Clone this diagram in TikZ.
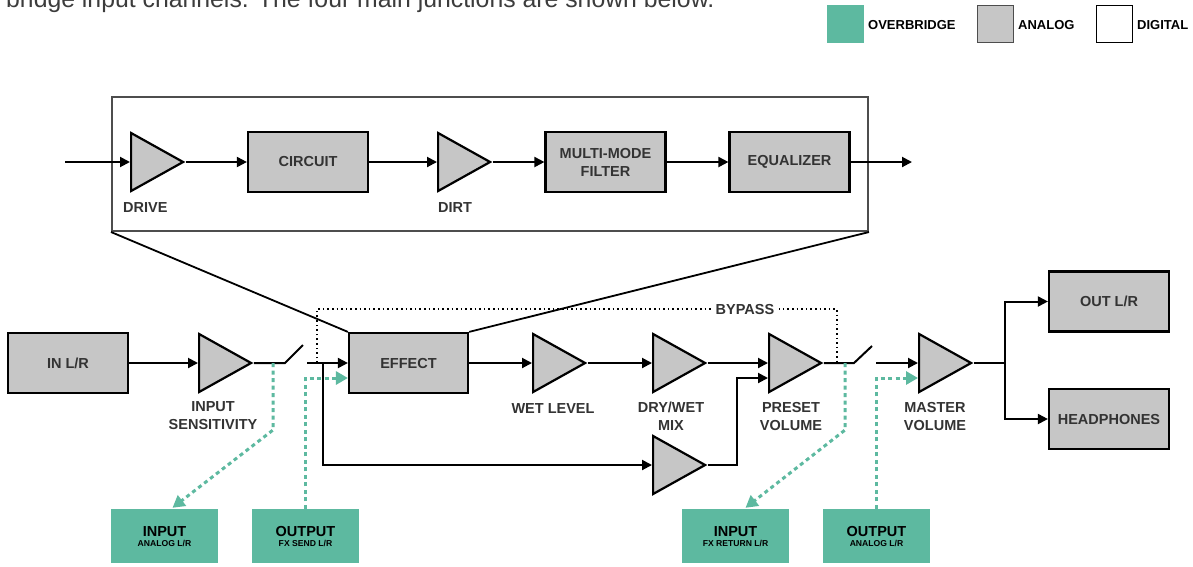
\documentclass[tikz,border=0pt]{standalone}
\usepackage{fontspec}
\setmainfont{Liberation Sans}
\usetikzlibrary{shapes.geometric,arrows.meta,calc}
\definecolor{agray}{HTML}{C6C6C6}
\definecolor{obgreen}{HTML}{5DB9A0}
\definecolor{txt}{HTML}{333333}
\definecolor{capt}{HTML}{3C3C3C}
\definecolor{framec}{HTML}{4D4D4D}
\begin{document}
\begin{tikzpicture}[x=1pt,y=-1pt,
  abox/.style={rectangle, draw=black, line width=2.2pt, fill=agray, minimum width=120pt, minimum height=60pt, inner sep=0pt, align=center, text=txt, font=\fontsize{14.5}{18}\selectfont\bfseries},
  amp/.style={isosceles triangle, isosceles triangle stretches, draw=black, line width=2.2pt, fill=agray, minimum width=58pt, minimum height=52pt, inner sep=0pt, anchor=west},
  lbl/.style={inner sep=0pt, align=center, text=txt, font=\fontsize{14.5}{18}\selectfont\bfseries},
  lbl1/.style={inner sep=0pt, text=txt, font=\fontsize{14.5}{18}\selectfont\bfseries},
  sig/.style={line width=2pt, -{Triangle[length=10pt,width=10pt]}},
  wire/.style={line width=2pt},
  ob/.style={fill=obgreen, minimum width=107pt, minimum height=54pt, inner sep=0pt},
  obt/.style={inner sep=0pt, anchor=base, font=\fontsize{14.5}{16}\selectfont\bfseries, text=black},
  obs/.style={inner sep=0pt, anchor=base, font=\fontsize{8.6}{9}\selectfont\bfseries, text=black},
  gdot/.style={draw=obgreen, line width=3pt, dash pattern=on 4pt off 3.5pt, -{Triangle[length=12pt,width=13pt]}},
  bypass/.style={line width=1.6pt, dash pattern=on 1.6pt off 3pt},
  legt/.style={inner sep=0pt, anchor=west, font=\fontsize{13}{15}\selectfont\bfseries, text=black}
]
\useasboundingbox (0,0) rectangle (1193,566);
\clip (0,0) rectangle (1193,566);

% caption (cropped at top, as in the reference)
\node[anchor=base west, inner sep=0pt, text=capt, font=\fontsize{24.8}{30}\selectfont] (caption) at (6,7) {bridge input channels. The four main junctions are shown below.};

% legend
\node[fill=obgreen, minimum width=37pt, minimum height=38pt, inner sep=0pt] (legob) at (845.5,24) {};
\node[legt] (legobt) at (868,25) {OVERBRIDGE};
\node[fill=agray, draw=framec, line width=1pt, minimum width=36pt, minimum height=37pt, inner sep=0pt] (legan) at (995,24) {};
\node[legt] (legant) at (1018,25) {ANALOG};
\node[fill=white, draw=black, line width=1pt, minimum width=36pt, minimum height=37pt, inner sep=0pt] (legdi) at (1114,24) {};
\node[legt] (legdit) at (1137,25) {DIGITAL};

% zoom frame
\node[draw=framec, line width=2pt, minimum width=756pt, minimum height=134pt, inner sep=0pt] (frame) at (490,164) {};

% top row (effect detail)
\coordinate (tin) at (65,162);
\node[amp] (drive) at (130,162) {};
\node[abox] (circuit) at (308,162) {CIRCUIT};
\node[amp] (dirt) at (437,162) {};
\node[abox] (mmf) at (605.5,162) {MULTI-MODE\\FILTER};
\node[abox] (eq) at (789.5,162) {EQUALIZER};
\coordinate (tout) at (912,162);
\node[lbl1, anchor=base west] (drivel) at (123,212) {DRIVE};
\node[lbl1, anchor=base west] (dirtl) at (438,212) {DIRT};
\draw[sig] (tin) -- (drive.west);
\draw[sig] (drive.east) -- (circuit.west);
\draw[sig] (circuit.east) -- (dirt.west);
\draw[sig] (dirt.east) -- (mmf.west);
\draw[sig] (mmf.east) -- (eq.west);
\draw[sig] (eq.east) -- (tout);

% main row
\node[abox] (inlr) at (68,363) {IN L/R};
\node[amp] (insens) at (198,363) {};
\node[abox, minimum width=119pt] (effect) at (408.5,363) {EFFECT};
\node[amp] (wet) at (532,363) {};
\node[amp] (drywet) at (652,363) {};
\node[amp] (preset) at (768,363) {};
\node[amp] (drylow) at (652,465) {};
\node[amp] (master) at (918,363) {};
\node[abox] (outlr) at (1109,301.5) {OUT L/R};
\node[abox] (hp) at (1109,419) {HEADPHONES};

\draw[line width=1.8pt] (frame.south west) -- (effect.north west);
\draw[line width=1.8pt] (frame.south east) -- (effect.north east);

\node[lbl] (insensl) at (213,416) {INPUT\\SENSITIVITY};
\node[lbl1, anchor=base] (wetl) at (553,413) {WET LEVEL};
\node[lbl] (drywetl) at (671,416) {DRY/WET\\MIX};
\node[lbl] (presetl) at (791,416) {PRESET\\VOLUME};
\node[lbl] (masterl) at (935,416) {MASTER\\VOLUME};

\coordinate (sw1a) at (285,363); \coordinate (sw1b) at (303,345); \coordinate (sw1c) at (307,363);
\coordinate (sw2a) at (854,363); \coordinate (sw2b) at (872,346); \coordinate (sw2c) at (876,363);
\coordinate (br) at (323,363);
\coordinate (bypA) at (317,363); \coordinate (bypB) at (837,363);
\coordinate (split) at (1005,363);
\coordinate (tap1) at (273,363); \coordinate (tap2) at (845,363);

\draw[sig] (inlr.east) -- (insens.west);
\draw[wire] (insens.east) -- (sw1a) -- (sw1b);
\draw[sig] (sw1c) -- (effect.west);
\draw[sig] (effect.east) -- (wet.west);
\draw[sig] (wet.east) -- (drywet.west);
\draw[sig] (drywet.east) -- (preset.west);
\draw[sig] (br) |- (drylow.west);
\draw[sig] (drylow.east) -| ($(preset.west)+(-31,15)$) -- ($(preset.west)+(0,15)$);
\draw[wire] (preset.east) -- (sw2a) -- (sw2b);
\draw[sig] (sw2c) -- (master.west);
\draw[wire] (master.east) -- (split);
\draw[sig] (split) |- (outlr.west);
\draw[sig] (split) |- (hp.west);
\draw[bypass] (bypA) -- ++(0,-54) -| (bypB);
\node[lbl1, fill=white, inner sep=5pt] (bypl) at (745,309) {BYPASS};

% overbridge boxes
\node[ob] (inanalog) at (164.5,536) {};
\node[ob] (sendfx) at (305.5,536) {};
\node[ob] (retfx) at (735.5,536) {};
\node[ob] (outanalog) at (876.5,536) {};
\node[obt] (inanalogt) at ($(inanalog.center)+(0,0.2)$) {INPUT};
\node[obs] (inanalogs) at ($(inanalog.center)+(0,10)$) {ANALOG L/R};
\node[obt] (sendfxt) at ($(sendfx.center)+(0,0.2)$) {OUTPUT};
\node[obs] (sendfxs) at ($(sendfx.center)+(0,10)$) {FX SEND L/R};
\node[obt] (retfxt) at ($(retfx.center)+(0,0.2)$) {INPUT};
\node[obs] (retfxs) at ($(retfx.center)+(0,10)$) {FX RETURN L/R};
\node[obt] (outanalogt) at ($(outanalog.center)+(0,0.2)$) {OUTPUT};
\node[obs] (outanalogs) at ($(outanalog.center)+(0,10)$) {ANALOG L/R};

\draw[gdot] (tap1) -- ++(0,67) -- ($(inanalog.north)+(8,-1)$);
\draw[gdot] (sendfx.north) |- ($(effect.west)+(0,15)$);
\draw[gdot] (tap2) -- ++(0,67) -- ($(retfx.north)+(10,-1)$);
\draw[gdot] (outanalog.north) |- ($(master.west)+(0,15)$);
\end{tikzpicture}
\end{document}
